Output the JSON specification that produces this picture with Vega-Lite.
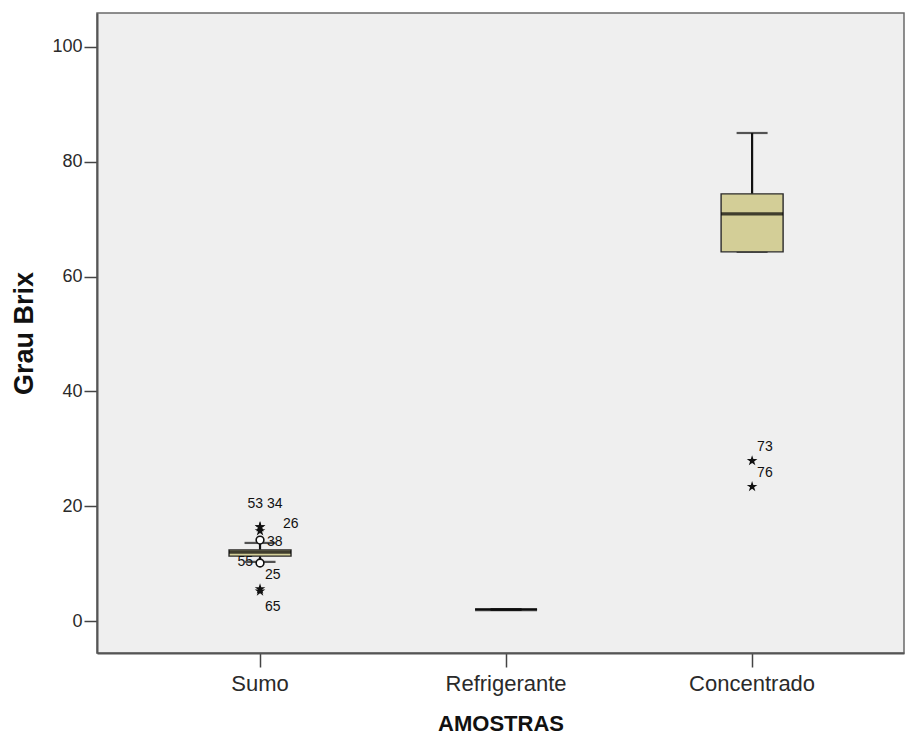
{
  "$schema": "https://vega.github.io/schema/vega-lite/v6.json",
  "width": 807,
  "height": 640,
  "autosize": {"type": "none"},
  "padding": {"left": 97, "top": 13, "right": 1, "bottom": 82},
  "background": "white",
  "datasets": {
    "box": [
      {"sample": "Sumo", "lower": 10.3, "q1": 11.3, "median": 12.0, "q3": 12.4, "upper": 13.6},
      {"sample": "Refrigerante", "lower": 2, "q1": 2, "median": 2, "q3": 2, "upper": 2},
      {"sample": "Concentrado", "lower": 64.3, "q1": 64.3, "median": 70.9, "q3": 74.4, "upper": 85.0}
    ],
    "outliers": [
      {"sample": "Sumo", "id": "53", "value": 16.4, "kind": "extreme"},
      {"sample": "Sumo", "id": "34", "value": 16.4, "kind": "extreme"},
      {"sample": "Sumo", "id": "26", "value": 15.7, "kind": "extreme"},
      {"sample": "Sumo", "id": "38", "value": 14.1, "kind": "outlier"},
      {"sample": "Sumo", "id": "55", "value": 10.1, "kind": "outlier"},
      {"sample": "Sumo", "id": "25", "value": 5.6, "kind": "extreme"},
      {"sample": "Sumo", "id": "65", "value": 5.2, "kind": "extreme"},
      {"sample": "Concentrado", "id": "73", "value": 27.9, "kind": "extreme"},
      {"sample": "Concentrado", "id": "76", "value": 23.4, "kind": "extreme"}
    ]
  },
  "encoding": {
    "x": {
      "field": "sample",
      "type": "nominal",
      "title": "AMOSTRAS",
      "sort": null,
      "scale": {
        "domain": ["Sumo", "Refrigerante", "Concentrado"],
        "paddingInner": 0.748,
        "paddingOuter": 0.514,
        "align": 0.522
      }
    }
  },
  "layer": [
    {
      "data": {"name": "box"},
      "mark": {"type": "rule", "color": "#111", "strokeWidth": 2.2},
      "encoding": {
        "y": {"field": "lower", "type": "quantitative", "title": "Grau Brix",
              "scale": {"domain": [-5.57, 105.9], "nice": false, "zero": false},
              "axis": {"values": [0, 20, 40, 60, 80, 100]}},
        "y2": {"field": "upper"}
      }
    },
    {
      "data": {"name": "box"},
      "mark": {"type": "tick", "color": "#111", "size": 31, "thickness": 2.2},
      "encoding": {
        "y": {"field": "upper", "type": "quantitative", "title": "Grau Brix",
              "scale": {"domain": [-5.57, 105.9], "nice": false, "zero": false},
              "axis": {"values": [0, 20, 40, 60, 80, 100]}}
      }
    },
    {
      "data": {"name": "box"},
      "mark": {"type": "tick", "color": "#111", "size": 31, "thickness": 2.2},
      "encoding": {
        "y": {"field": "lower", "type": "quantitative", "title": "Grau Brix",
              "scale": {"domain": [-5.57, 105.9], "nice": false, "zero": false},
              "axis": {"values": [0, 20, 40, 60, 80, 100]}}
      }
    },
    {
      "data": {"name": "box"},
      "mark": {"type": "bar", "fill": "#d3ce97", "stroke": "#2b2b2b", "strokeWidth": 1.4},
      "encoding": {
        "y": {"field": "q1", "type": "quantitative", "title": "Grau Brix",
              "scale": {"domain": [-5.57, 105.9], "nice": false, "zero": false},
              "axis": {"values": [0, 20, 40, 60, 80, 100]}},
        "y2": {"field": "q3"}
      }
    },
    {
      "data": {"name": "box"},
      "mark": {"type": "tick", "color": "#000", "size": 62, "thickness": 3.2},
      "encoding": {
        "y": {"field": "median", "type": "quantitative", "title": "Grau Brix",
              "scale": {"domain": [-5.57, 105.9], "nice": false, "zero": false},
              "axis": {"values": [0, 20, 40, 60, 80, 100]}}
      }
    },
    {
      "data": {"name": "outliers"},
      "transform": [{"filter": "datum.kind == 'outlier'"}],
      "mark": {"type": "point", "shape": "circle", "filled": true, "fill": "white", "stroke": "#111", "strokeWidth": 1.6, "size": 60, "opacity": 1},
      "encoding": {
        "y": {"field": "value", "type": "quantitative", "title": "Grau Brix",
              "scale": {"domain": [-5.57, 105.9], "nice": false, "zero": false},
              "axis": {"values": [0, 20, 40, 60, 80, 100]}}
      }
    },
    {
      "data": {"name": "outliers"},
      "transform": [{"filter": "datum.kind == 'extreme'"}],
      "mark": {"type": "point", "shape": "M0,-1L0.2245,-0.309L0.951,-0.309L0.3633,0.118L0.5878,0.809L0,0.382L-0.5878,0.809L-0.3633,0.118L-0.951,-0.309L-0.2245,-0.309Z", "filled": true, "color": "#111", "size": 125, "opacity": 1},
      "encoding": {
        "y": {"field": "value", "type": "quantitative", "title": "Grau Brix",
              "scale": {"domain": [-5.57, 105.9], "nice": false, "zero": false},
              "axis": {"values": [0, 20, 40, 60, 80, 100]}}
      }
    },
    {
      "data": {"name": "outliers"},
      "transform": [{"filter": {"field": "id", "oneOf": ["73", "76", "25"]}}],
      "mark": {"type": "text", "align": "left", "baseline": "middle", "dx": 5, "dy": -14, "fontSize": 14, "font": "Liberation Sans", "color": "#111"},
      "encoding": {
        "y": {"field": "value", "type": "quantitative", "title": "Grau Brix",
              "scale": {"domain": [-5.57, 105.9], "nice": false, "zero": false},
              "axis": {"values": [0, 20, 40, 60, 80, 100]}},
        "text": {"field": "id"}
      }
    },
    {
      "data": {"name": "outliers"},
      "transform": [{"filter": {"field": "id", "oneOf": ["65"]}}],
      "mark": {"type": "text", "align": "left", "baseline": "middle", "dx": 5, "dy": 16, "fontSize": 14, "font": "Liberation Sans", "color": "#111"},
      "encoding": {
        "y": {"field": "value", "type": "quantitative", "title": "Grau Brix",
              "scale": {"domain": [-5.57, 105.9], "nice": false, "zero": false},
              "axis": {"values": [0, 20, 40, 60, 80, 100]}},
        "text": {"field": "id"}
      }
    },
    {
      "data": {"name": "outliers"},
      "transform": [{"filter": {"field": "id", "oneOf": ["53"]}}],
      "mark": {"type": "text", "align": "right", "baseline": "middle", "dx": 3, "dy": -23, "fontSize": 14, "font": "Liberation Sans", "color": "#111"},
      "encoding": {
        "y": {"field": "value", "type": "quantitative", "title": "Grau Brix",
              "scale": {"domain": [-5.57, 105.9], "nice": false, "zero": false},
              "axis": {"values": [0, 20, 40, 60, 80, 100]}},
        "text": {"field": "id"}
      }
    },
    {
      "data": {"name": "outliers"},
      "transform": [{"filter": {"field": "id", "oneOf": ["34"]}}],
      "mark": {"type": "text", "align": "left", "baseline": "middle", "dx": 7, "dy": -23, "fontSize": 14, "font": "Liberation Sans", "color": "#111"},
      "encoding": {
        "y": {"field": "value", "type": "quantitative", "title": "Grau Brix",
              "scale": {"domain": [-5.57, 105.9], "nice": false, "zero": false},
              "axis": {"values": [0, 20, 40, 60, 80, 100]}},
        "text": {"field": "id"}
      }
    },
    {
      "data": {"name": "outliers"},
      "transform": [{"filter": {"field": "id", "oneOf": ["26"]}}],
      "mark": {"type": "text", "align": "left", "baseline": "middle", "dx": 23, "dy": -7, "fontSize": 14, "font": "Liberation Sans", "color": "#111"},
      "encoding": {
        "y": {"field": "value", "type": "quantitative", "title": "Grau Brix",
              "scale": {"domain": [-5.57, 105.9], "nice": false, "zero": false},
              "axis": {"values": [0, 20, 40, 60, 80, 100]}},
        "text": {"field": "id"}
      }
    },
    {
      "data": {"name": "outliers"},
      "transform": [{"filter": {"field": "id", "oneOf": ["38"]}}],
      "mark": {"type": "text", "align": "left", "baseline": "middle", "dx": 7, "dy": 2, "fontSize": 14, "font": "Liberation Sans", "color": "#111"},
      "encoding": {
        "y": {"field": "value", "type": "quantitative", "title": "Grau Brix",
              "scale": {"domain": [-5.57, 105.9], "nice": false, "zero": false},
              "axis": {"values": [0, 20, 40, 60, 80, 100]}},
        "text": {"field": "id"}
      }
    },
    {
      "data": {"name": "outliers"},
      "transform": [{"filter": {"field": "id", "oneOf": ["55"]}}],
      "mark": {"type": "text", "align": "right", "baseline": "middle", "dx": -7, "dy": -1, "fontSize": 14, "font": "Liberation Sans", "color": "#111"},
      "encoding": {
        "y": {"field": "value", "type": "quantitative", "title": "Grau Brix",
              "scale": {"domain": [-5.57, 105.9], "nice": false, "zero": false},
              "axis": {"values": [0, 20, 40, 60, 80, 100]}},
        "text": {"field": "id"}
      }
    }
  ],
  "config": {
    "view": {"fill": "#efefef", "stroke": "#6a6a6a", "strokeWidth": 1.5},
    "axis": {
      "grid": false,
      "domainColor": "#555555",
      "domainWidth": 2,
      "tickColor": "#444444",
      "tickWidth": 1.5,
      "labelFont": "Liberation Sans",
      "titleFont": "Liberation Sans",
      "labelColor": "#2a2a2a",
      "titleColor": "#111111"
    },
    "axisY": {
      "tickSize": 13,
      "labelPadding": 2,
      "labelFontSize": 18,
      "titleFontSize": 27,
      "titleFontWeight": "bold",
      "titleAngle": -90,
      "titleBaseline": "alphabetic",
      "titleAlign": "center",
      "titleX": -65,
      "titleY": 320
    },
    "axisX": {
      "tickSize": 14,
      "labelPadding": 6,
      "labelAngle": 0,
      "labelFontSize": 22,
      "labelBaseline": "top",
      "titleFontSize": 22,
      "titleFontWeight": "bold",
      "titleBaseline": "alphabetic",
      "titleAlign": "center",
      "titleX": 403.5,
      "titleY": 77
    }
  }
}
